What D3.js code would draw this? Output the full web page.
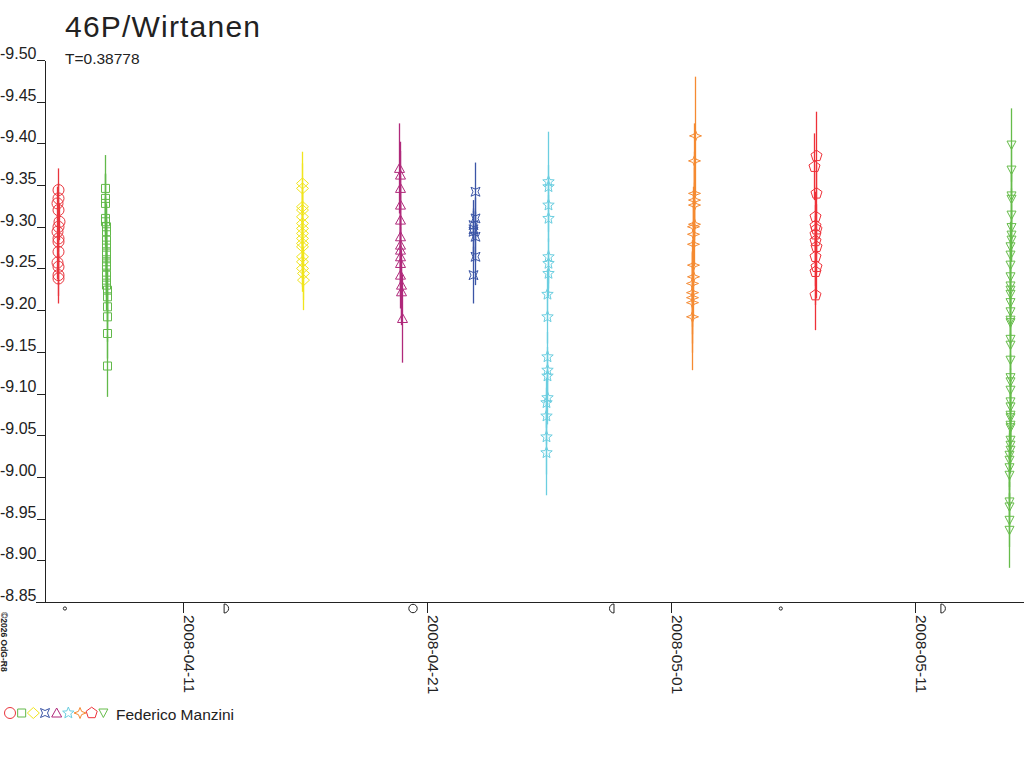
<!DOCTYPE html>
<html>
<head>
<meta charset="utf-8">
<script src="https://cdn.jsdelivr.net/npm/d3@7"></script>
<style>
  html, body { margin: 0; padding: 0; background: #fff; }
  svg { display: block; font-family: "Liberation Sans", Arial, sans-serif; }
</style>
</head>
<body>
<div id="chart"></div>
<script>
// Chart texts
const title = '46P/Wirtanen';
const subtitle = 'T=0.38778';
const observer = 'Federico Manzini';
const credit = '\u00a92026 OdG-R8';

// One session per night, each with its own symbol
const sessionTimes = [
  '2008-04-05T21:05Z', '2008-04-07T20:20Z', '2008-04-15T21:10Z',
  '2008-04-19T21:40Z', '2008-04-22T22:30Z', '2008-04-25T22:20Z',
  '2008-05-01T22:00Z', '2008-05-06T22:00Z', '2008-05-14T21:50Z'
];
const sessionSymbols = [
  'circle', 'square', 'diamond', 'triangle', 'cross4',
  'star', 'star4', 'pentagon', 'triangleDown'
];
// sessions in the order the legend lists them
const legendOrder = [0, 1, 2, 4, 3, 5, 6, 7, 8];

// hours from the session time, magnitude and its error, per observation
const hourOffsets = [
  [0, 0.5, -0.5, 0, 1, 0, -0.5, 0.5, 0, 0, -0.5, 0.5, 0, 0.5],
  [-1, -1, -0.5, -0.5, -0.5, 0, 0, 0, 0, 0, 0, 0.5, 0.5, 0.5, 0.5, 0.5, 0.5, 1, 1, 1, 1, 1, 1],
  [0, 0, 0, 0, 0, 0, 0, 0, 0, 0, 0, 0, 0.5, 0.5, 1, 1],
  [-1, 0, 0, 0, 0, 0, 0, 0, 0, 0, 0, 1, 1, 2],
  [1, 1, -1, -1, -1, 1, 1, -1],
  [1, 1, 1, 1, 0.5, 0.5, 0.5, 0, 0, 0, -0.5, -0.5, -0.5, -1, -1, -1, -1],
  [1.5, 1, 1, 0.5, 0.5, 0.5, 0, 0, 0, -0.5, -0.5, -1, -1, -1, -1.5, -1.5],
  [1, -1, 0.5, 0, 0, 0.5, -0.5, 0, 0.5, 0, 0.5, 0, 0],
  [0.5, 0.5, 0.5, 0.5, 0.5, 0.5, 0.5, 0.5, 0, 0, 0, 0, 0, 0, 0, 0, 0, 0, 0, 0, 0,
   0, 0, 0, 0, 0, -0.5, -0.5, -0.5, -0.5, -0.5, -0.5, -0.5, -0.5, -1, -1, -1, -1, -1, -1, -1, -1]
];
const magnitudes = [
  [-9.344, -9.334, -9.328, -9.320, -9.306, -9.300, -9.294, -9.286, -9.282, -9.270, -9.257, -9.252, -9.242, -9.238],
  [-9.346, -9.334, -9.328, -9.310, -9.306, -9.300, -9.294, -9.284, -9.278, -9.270, -9.266, -9.258,
   -9.254, -9.252, -9.242, -9.236, -9.230, -9.224, -9.216, -9.204, -9.192, -9.172, -9.133],
  [-9.352, -9.346, -9.324, -9.320, -9.312, -9.304, -9.298, -9.292, -9.286, -9.280, -9.276, -9.264,
   -9.258, -9.250, -9.244, -9.236],
  [-9.370, -9.362, -9.346, -9.326, -9.308, -9.288, -9.278, -9.272, -9.264, -9.256, -9.242, -9.230, -9.222, -9.190],
  [-9.342, -9.310, -9.302, -9.297, -9.294, -9.288, -9.264, -9.242],
  [-9.354, -9.348, -9.326, -9.310, -9.264, -9.256, -9.244, -9.219, -9.192, -9.144, -9.128, -9.121,
   -9.095, -9.089, -9.073, -9.048, -9.029],
  [-9.409, -9.379, -9.340, -9.332, -9.326, -9.303, -9.300, -9.291, -9.279, -9.254, -9.240, -9.232,
   -9.221, -9.215, -9.209, -9.192],
  [-9.385, -9.372, -9.340, -9.312, -9.301, -9.297, -9.291, -9.283, -9.276, -9.264, -9.252, -9.246, -9.218],
  [-9.398, -9.368, -9.337, -9.333, -9.314, -9.299, -9.290, -9.284, -9.276, -9.266, -9.254, -9.240,
   -9.229, -9.224, -9.219, -9.209, -9.198, -9.188, -9.185, -9.165, -9.158, -9.140, -9.119, -9.114,
   -9.104, -9.090, -9.084, -9.074, -9.071, -9.062, -9.059, -9.044, -9.038, -9.032, -9.026, -9.020,
   -9.011, -9.002, -8.970, -8.964, -8.948, -8.936]
];
const errors = [
  [0.026, 0.018, 0.020, 0.015, 0.022, 0.018, 0.020, 0.016, 0.024, 0.018, 0.020, 0.022, 0.025, 0.030],
  [0.040, 0.030, 0.035, 0.025, 0.030, 0.028, 0.032, 0.025, 0.030, 0.028, 0.030, 0.025,
   0.028, 0.030, 0.026, 0.028, 0.030, 0.025, 0.030, 0.028, 0.030, 0.030, 0.037],
  [0.038, 0.030, 0.028, 0.025, 0.030, 0.026, 0.028, 0.030, 0.025, 0.028, 0.030, 0.026,
   0.030, 0.028, 0.032, 0.036],
  [0.054, 0.040, 0.045, 0.035, 0.040, 0.038, 0.035, 0.040, 0.036, 0.038, 0.040, 0.042, 0.040, 0.053],
  [0.035, 0.025, 0.020, 0.035, 0.025, 0.030, 0.034, 0.034],
  [0.060, 0.026, 0.030, 0.028, 0.032, 0.030, 0.028, 0.030, 0.032, 0.030, 0.028, 0.030,
   0.032, 0.030, 0.034, 0.045, 0.051],
  [0.071, 0.045, 0.050, 0.048, 0.045, 0.050, 0.048, 0.052, 0.050, 0.048, 0.050, 0.052,
   0.050, 0.055, 0.060, 0.064],
  [0.053, 0.040, 0.035, 0.030, 0.032, 0.030, 0.035, 0.030, 0.032, 0.035, 0.038, 0.040, 0.042],
  [0.044, 0.030, 0.028, 0.030, 0.032, 0.028, 0.030, 0.026, 0.030, 0.028, 0.030, 0.032,
   0.028, 0.030, 0.026, 0.030, 0.028, 0.032, 0.030, 0.028, 0.030, 0.032, 0.028, 0.030,
   0.026, 0.030, 0.028, 0.032, 0.030, 0.028, 0.030, 0.026, 0.030, 0.028, 0.030, 0.032,
   0.027, 0.030, 0.028, 0.030, 0.032, 0.045]
];

// Axes
const yDomain = [-9.50, -8.85];
const yTicks = [-9.50, -9.45, -9.40, -9.35, -9.30, -9.25, -9.20, -9.15, -9.10, -9.05, -9.00, -8.95, -8.90, -8.85];
const xDomain = ['2008-04-05T08:20Z', '2008-05-15T11:35Z'];
const xTickDates = ['2008-04-11', '2008-04-21', '2008-05-01', '2008-05-11'];

// Moon phases shown under the time axis
const moonTimes = [
  '2008-04-06T03:55Z', '2008-04-12T18:32Z', '2008-04-20T10:25Z',
  '2008-04-28T14:12Z', '2008-05-05T12:18Z', '2008-05-12T03:47Z'
];
const moonPhases = ['new', 'first', 'full', 'last', 'new', 'first'];

// Styles
const sessionColors = [
  '#e9343c', '#62b94a', '#f1e51d', '#b0297b', '#3b55a6',
  '#6bcee0', '#f58a32', '#ee3139', '#66bc4a'
];
const ink = '#222';

const width = 1024;
const height = 768;
const margin = {top: 60, right: 0, bottom: 166, left: 45};

function symbolPath(name) {
  const p = d3.path();
  if (name === 'circle') {
    p.arc(0, 0, 5.5, 0, 2 * Math.PI);
    return p.toString();
  }
  let pts;
  if (name === 'square') pts = [[-4, -4], [4, -4], [4, 4], [-4, 4]];
  if (name === 'diamond') pts = [[0, -5.5], [6, 0], [0, 5.5], [-6, 0]];
  if (name === 'cross4') pts = [[-4.5, -4.5], [0, -2.5], [4.5, -4.5], [2.5, 0], [4.5, 4.5], [0, 2.5], [-4.5, 4.5], [-2.5, 0]];
  if (name === 'triangle') pts = [[0, -5], [5, 4], [-5, 4]];
  if (name === 'triangleDown') pts = [[-4.5, -4], [4.5, -4], [0, 4.5]];
  if (name === 'star4') pts = [[0, -5.5], [1.6, -1.6], [6, 0], [1.6, 1.6], [0, 5.5], [-1.6, 1.6], [-6, 0], [-1.6, -1.6]];
  if (name === 'star') {
    pts = d3.range(10).map(i => {
      const a = -Math.PI / 2 + i * Math.PI / 5;
      const r = i % 2 ? 2.6 : 6;
      return [r * Math.cos(a), r * Math.sin(a)];
    });
  }
  if (name === 'pentagon') {
    pts = d3.range(5).map(i => {
      const a = -Math.PI / 2 + i * 2 * Math.PI / 5;
      return [5.8 * Math.cos(a), 5.8 * Math.sin(a)];
    });
  }
  return d3.line()(pts) + 'Z';
}

function moonPath(phase) {
  const p = d3.path();
  if (phase === 'new') {
    p.arc(0, 0, 1.6, 0, 2 * Math.PI);
  } else if (phase === 'full') {
    p.arc(0, 0, 4.2, 0, 2 * Math.PI);
  } else if (phase === 'first') {
    p.moveTo(-2, -4.5);
    p.lineTo(-2, 4.5);
    p.arc(-2, 0, 4.5, Math.PI / 2, -Math.PI / 2, true);
  } else {
    p.moveTo(2, -4.5);
    p.lineTo(2, 4.5);
    p.arc(2, 0, 4.5, Math.PI / 2, 3 * Math.PI / 2, false);
  }
  return p.toString();
}

function draw() {
  const svg = d3.select('#chart')
    .append('svg')
    .attr('width', width)
    .attr('height', height)
    .attr('viewBox', `0,0,${width},${height}`);

  const x = d3.scaleUtc()
    .domain(xDomain.map(d => new Date(d)))
    .range([margin.left, width - margin.right]);
  const y = d3.scaleLinear()
    .domain(yDomain)
    .range([margin.top, height - margin.bottom]);
  const y0 = height - margin.bottom;

  // titles
  svg.append('text')
    .attr('x', 65).attr('y', 37)
    .attr('font-size', 30).attr('letter-spacing', 1.2)
    .attr('fill', ink)
    .text(title);
  svg.append('text')
    .attr('x', 65).attr('y', 64)
    .attr('font-size', 15.5)
    .attr('fill', ink)
    .text(subtitle);

  // y axis
  svg.append('g')
    .attr('transform', `translate(${margin.left},0)`)
    .call(d3.axisLeft(y).tickValues(yTicks).tickSize(8).tickSizeOuter(0).tickFormat(d => d.toFixed(2)))
    .call(g => g.selectAll('path, line').attr('stroke', ink).attr('shape-rendering', 'crispEdges'))
    .call(g => g.selectAll('text')
      .attr('x', -8.5).attr('dy', '-0.1em')
      .attr('font-size', 16)
      .attr('font-family', '"Liberation Sans", Arial, sans-serif')
      .attr('fill', ink));

  // x axis
  svg.append('g')
    .attr('transform', `translate(0,${y0})`)
    .call(d3.axisBottom(x).tickValues(xTickDates.map(d => new Date(d + 'T00:00Z'))).tickSize(11).tickFormat(''))
    .call(g => g.select('.domain').remove())
    .call(g => g.selectAll('line').attr('stroke', ink).attr('shape-rendering', 'crispEdges'));
  svg.append('line')
    .attr('x1', 36).attr('x2', width)
    .attr('y1', y0).attr('y2', y0)
    .attr('stroke', ink)
    .attr('shape-rendering', 'crispEdges');
  svg.append('g')
    .selectAll('text')
    .data(xTickDates)
    .join('text')
    .attr('transform', d => `translate(${x(new Date(d + 'T00:00Z')) + 1},615) rotate(90)`)
    .attr('font-size', 15.5)
    .attr('fill', ink)
    .text(d => d);

  // moon phases
  svg.append('g')
    .selectAll('path')
    .data(moonTimes)
    .join('path')
    .attr('transform', d => `translate(${x(new Date(d))},608.5)`)
    .attr('d', (d, i) => moonPath(moonPhases[i]))
    .attr('fill', 'none')
    .attr('stroke', ink)
    .attr('stroke-width', 1);

  // credit
  svg.append('text')
    .attr('transform', 'translate(1,612) rotate(90)')
    .attr('font-size', 8.5)
    .attr('font-weight', 'bold')
    .attr('fill', ink)
    .text(credit);

  // observations
  const sessions = sessionTimes.map((t, s) => ({
    symbol: sessionSymbols[s],
    color: sessionColors[s],
    obs: magnitudes[s].map((m, i) => ({
      t: new Date(+new Date(t) + hourOffsets[s][i] * 3600e3),
      m,
      e: errors[s][i]
    }))
  }));

  const serie = svg.append('g')
    .selectAll('g')
    .data(sessions)
    .join('g')
    .attr('stroke', d => d.color)
    .attr('fill', 'none');

  serie.selectAll('line')
    .data(d => d.obs)
    .join('line')
    .attr('x1', d => Math.round(x(d.t)) + 0.5)
    .attr('x2', d => Math.round(x(d.t)) + 0.5)
    .attr('y1', d => y(d.m - d.e))
    .attr('y2', d => y(d.m + d.e))
    .attr('stroke-width', 1.3);

  serie.selectAll('path')
    .data(d => d.obs.map(o => ({...o, symbol: d.symbol})))
    .join('path')
    .attr('transform', d => `translate(${Math.round(x(d.t)) + 0.5},${y(d.m)})`)
    .attr('d', d => symbolPath(d.symbol))
    .attr('stroke-width', 1);

  // legend
  const legend = svg.append('g').attr('transform', 'translate(10,713)');
  legend.selectAll('path')
    .data(legendOrder)
    .join('path')
    .attr('transform', (d, i) => `translate(${i * 11.67},0)`)
    .attr('d', s => symbolPath(sessionSymbols[s]))
    .attr('fill', 'none')
    .attr('stroke', s => sessionColors[s]);
  legend.append('text')
    .attr('x', 106).attr('y', 7)
    .attr('font-size', 15.5)
    .attr('fill', ink)
    .text(observer);
}

draw();
</script>
</body>
</html>
